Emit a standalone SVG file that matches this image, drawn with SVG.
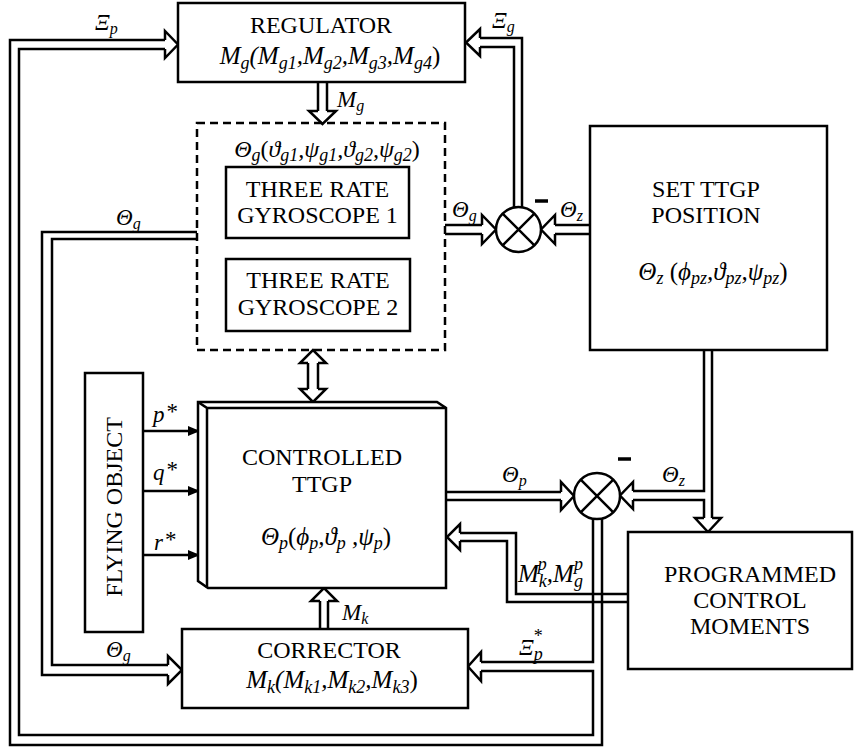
<svg xmlns="http://www.w3.org/2000/svg" width="855" height="751" viewBox="0 0 855 751">
  <style>
    .box { fill: #fff; stroke: #000; stroke-width: 2.5; }
    .dash { fill: none; stroke: #000; stroke-width: 2.5; stroke-dasharray: 8 5; }
    .ln { fill: none; stroke: #000; stroke-width: 2.5; stroke-linejoin: miter; }
    .t { font-family: "Liberation Serif", "Times New Roman", serif; font-size: 24px; text-anchor: middle; fill: #000; }
    .m { font-family: "Liberation Serif", "Times New Roman", serif; font-style: italic; font-size: 23px; fill: #000; }
    .f { font-size: 25px; }
    .mc { text-anchor: middle; }
    .s { font-size: 16px; }
    .fs { font-size: 18px; }
    .u { font-style: normal; }
  </style>
  <defs>
    <marker id="solid" markerUnits="userSpaceOnUse" markerWidth="12" markerHeight="10" refX="11" refY="5" orient="auto">
      <path d="M0,0 L12,5 L0,10 Z" fill="#000"/>
    </marker>
  </defs>

  <!-- connectors: double-line signal paths with hollow heads -->
  <g id="connectors">
    <!-- outer feedback loop: sum 2 -> regulator (Xi_p) and corrector (Xi_p*) -->
    <path class="ln" d="M602,519 V745 H10 V40 H165"/>
    <path class="ln" d="M593,519 V662 H481"/>
    <path class="ln" d="M481,671 H593 V735 H19 V49 H165"/>
    <path class="ln" d="M165,40 V31 L178,44.5 L165,58 V49"/>
    <path class="ln" d="M481,662 V652 L468,666.5 L481,681 V671"/>

    <!-- Theta_g from gyroscopes to corrector -->
    <path class="ln" d="M197,232 H42 V675 H168"/>
    <path class="ln" d="M197,239 H52 V665 H168"/>
    <path class="ln" d="M168,665 V656 L182,670 L168,684 V675"/>

    <!-- M_g from regulator to gyroscopes -->
    <path class="ln" d="M318,82 V111 M327,82 V111"/>
    <path class="ln" d="M318,111 H309 L322.5,124 L336,111 H327"/>

    <!-- two-way link gyroscopes <-> controlled TTGP -->
    <path class="ln" d="M308,363 V389 M318,363 V389"/>
    <path class="ln" d="M308,363 H300 L313,350 L326,363 H318"/>
    <path class="ln" d="M308,389 H300 L313,402 L326,389 H318"/>

    <!-- M_k from corrector to controlled TTGP -->
    <path class="ln" d="M320,629 V601 M328,629 V601"/>
    <path class="ln" d="M320,601 H311 L324,588 L337,601 H328"/>

    <!-- Theta_g and Theta_z into sum 1 -->
    <path class="ln" d="M445,225 H482 M445,234 H482"/>
    <path class="ln" d="M482,225 V215 L496,229.5 L482,244 V234"/>
    <path class="ln" d="M590,225 H555 M590,234 H555"/>
    <path class="ln" d="M555,225 V215 L541,229.5 L555,244 V234"/>

    <!-- Xi_g from sum 1 to regulator -->
    <path class="ln" d="M522,208 V38 H480"/>
    <path class="ln" d="M514,208 V47 H480"/>
    <path class="ln" d="M480,38 V29 L466,42.5 L480,56 V47"/>

    <!-- Theta_p into sum 2 -->
    <path class="ln" d="M446,492 H561 M446,500 H561"/>
    <path class="ln" d="M561,492 V482 L574,496 L561,510 V500"/>

    <!-- Theta_z from set position: to sum 2 and to programmed moments -->
    <path class="ln" d="M712,350 V518"/>
    <path class="ln" d="M704,350 V491 H633"/>
    <path class="ln" d="M633,500 H704 V518"/>
    <path class="ln" d="M704,518 H695 L708,532 L721,518 H712"/>
    <path class="ln" d="M633,491 V482 L620,495.5 L633,509 V500"/>

    <!-- programmed moments into controlled TTGP -->
    <path class="ln" d="M628,594 H516 V533 H460"/>
    <path class="ln" d="M628,602 H507 V541 H460"/>
    <path class="ln" d="M460,533 V524 L447,537 L460,550 V541"/>

    <!-- disturbances from flying object -->
    <path class="ln" d="M143,431 H199" marker-end="url(#solid)"/>
    <path class="ln" d="M143,491 H199" marker-end="url(#solid)"/>
    <path class="ln" d="M143,555 H199" marker-end="url(#solid)"/>

    <!-- summing junctions -->
    <g id="sum1">
      <circle class="box" cx="518.5" cy="229.5" r="22.5"/>
      <path class="ln" d="M502.6,213.6 L534.4,245.4 M534.4,213.6 L502.6,245.4"/>
      <path class="ln" d="M535,201 H548" style="stroke-width:3.5"/>
    </g>
    <g id="sum2">
      <circle class="box" cx="597" cy="496" r="23"/>
      <path class="ln" d="M580.7,479.7 L613.3,512.3 M613.3,479.7 L580.7,512.3"/>
      <path class="ln" d="M618,459 H631" style="stroke-width:3.5"/>
    </g>

    <!-- connector labels -->
    <text class="m" x="95" y="30">Ξ<tspan class="s" dy="4">p</tspan></text>
    <text class="m" x="492" y="28">Ξ<tspan class="s" dy="4">g</tspan></text>
    <text class="m" x="337" y="107">M<tspan class="s" dy="4">g</tspan></text>
    <text class="m" x="116" y="225">Θ<tspan class="s" dy="4">g</tspan></text>
    <text class="m" x="452" y="217">Θ<tspan class="s" dy="4">g</tspan></text>
    <text class="m" x="560" y="217">Θ<tspan class="s" dy="4">z</tspan></text>
    <text class="m" x="502" y="482">Θ<tspan class="s" dy="4">p</tspan></text>
    <text class="m" x="662" y="482">Θ<tspan class="s" dy="4">z</tspan></text>
    <text class="m" x="518" y="582" style="font-size:25px">M<tspan class="fs" dy="5">k</tspan><tspan class="fs" dx="-9" dy="-17">p</tspan><tspan dy="12">,M</tspan><tspan class="fs" dy="5">g</tspan><tspan class="fs" dx="-9" dy="-17">p</tspan></text>
    <text class="m" x="519" y="655">Ξ<tspan class="fs" dy="5">p</tspan><tspan class="fs u" dx="-9" dy="-18">*</tspan></text>
    <text class="m" x="342" y="620">M<tspan class="s" dy="4">k</tspan></text>
    <text class="m" x="106" y="657">Θ<tspan class="s" dy="4">g</tspan></text>
    <text class="m" x="153" y="422">p<tspan class="u" dx="2" dy="-3">*</tspan></text>
    <text class="m" x="153" y="480">q<tspan class="u" dx="2" dy="-3">*</tspan></text>
    <text class="m" x="154" y="550">r<tspan class="u" dx="2" dy="-3">*</tspan></text>
  </g>

  <!-- blocks -->
  <g id="regulator">
    <rect class="box" x="178" y="3" width="287" height="79"/>
    <text class="t" x="321" y="33">REGULATOR</text>
    <text class="m f mc" x="330" y="64">M<tspan class="fs" dy="5">g</tspan><tspan dy="-5">(M</tspan><tspan class="fs" dy="5">g1</tspan><tspan dy="-5">,M</tspan><tspan class="fs" dy="5">g2</tspan><tspan dy="-5">,M</tspan><tspan class="fs" dy="5">g3</tspan><tspan dy="-5">,M</tspan><tspan class="fs" dy="5">g4</tspan><tspan class="u" dy="-5">)</tspan></text>
  </g>

  <g id="gyroscopes">
    <rect class="dash" x="197" y="123" width="248" height="227"/>
    <text class="m mc" x="327" y="157" style="font-size:24px">Θ<tspan class="fs" dy="4">g</tspan><tspan class="u" dy="-4">(</tspan>ϑ<tspan class="fs" dy="4">g1</tspan><tspan dy="-4">,ψ</tspan><tspan class="fs" dy="4">g1</tspan><tspan dy="-4">,ϑ</tspan><tspan class="fs" dy="4">g2</tspan><tspan dy="-4">,ψ</tspan><tspan class="fs" dy="4">g2</tspan><tspan class="u" dy="-4">)</tspan></text>
  </g>

  <g id="gyroscope1">
    <rect class="box" x="226" y="167" width="183" height="71"/>
    <text class="t" x="317.5" y="197">THREE RATE</text>
    <text class="t" x="317.5" y="223">GYROSCOPE 1</text>
  </g>

  <g id="gyroscope2">
    <rect class="box" x="226" y="259" width="184" height="72"/>
    <text class="t" x="318" y="288">THREE RATE</text>
    <text class="t" x="318" y="315">GYROSCOPE 2</text>
  </g>

  <g id="set-position">
    <rect class="box" x="590" y="126" width="237" height="224"/>
    <text class="t" x="706" y="197">SET TTGP</text>
    <text class="t" x="706" y="223">POSITION</text>
    <text class="m f mc" x="713" y="280">Θ<tspan class="fs" dy="4">z</tspan><tspan class="u" dy="-4"> (</tspan>ϕ<tspan class="fs" dy="4">pz</tspan><tspan dy="-4">,ϑ</tspan><tspan class="fs" dy="4">pz</tspan><tspan dy="-4">,ψ</tspan><tspan class="fs" dy="4">pz</tspan><tspan class="u" dy="-4">)</tspan></text>
  </g>

  <g id="flying-object">
    <rect class="box" x="85" y="373" width="58" height="259"/>
    <text class="t" transform="translate(122,507) rotate(-90)" x="0" y="0">FLYING OBJECT</text>
  </g>

  <g id="controlled-ttgp">
    <path class="box" d="M198,402 H437 L446,408 V588 H208 L198,581 Z"/>
    <path class="ln" d="M198,402 L207,408 V588 M207,408 H446"/>
    <text class="t" x="322" y="465">CONTROLLED</text>
    <text class="t" x="322" y="492">TTGP</text>
    <text class="m f mc" x="326" y="545">Θ<tspan class="fs" dy="4">p</tspan><tspan class="u" dy="-4">(</tspan>ϕ<tspan class="fs" dy="4">p</tspan><tspan dy="-4">,ϑ</tspan><tspan class="fs" dy="4">p</tspan><tspan dy="-4"> ,ψ</tspan><tspan class="fs" dy="4">p</tspan><tspan class="u" dy="-4">)</tspan></text>
  </g>

  <g id="programmed-moments">
    <rect class="box" x="628" y="532" width="224" height="137"/>
    <text class="t" x="750" y="582">PROGRAMMED</text>
    <text class="t" x="750" y="608">CONTROL</text>
    <text class="t" x="750" y="634">MOMENTS</text>
  </g>

  <g id="corrector">
    <rect class="box" x="182" y="629" width="286" height="79"/>
    <text class="t" x="329" y="658">CORRECTOR</text>
    <text class="m f mc" x="332" y="688">M<tspan class="fs" dy="5">k</tspan><tspan dy="-5">(M</tspan><tspan class="fs" dy="5">k1</tspan><tspan dy="-5">,M</tspan><tspan class="fs" dy="5">k2</tspan><tspan dy="-5">,M</tspan><tspan class="fs" dy="5">k3</tspan><tspan class="u" dy="-5">)</tspan></text>
  </g>
</svg>
